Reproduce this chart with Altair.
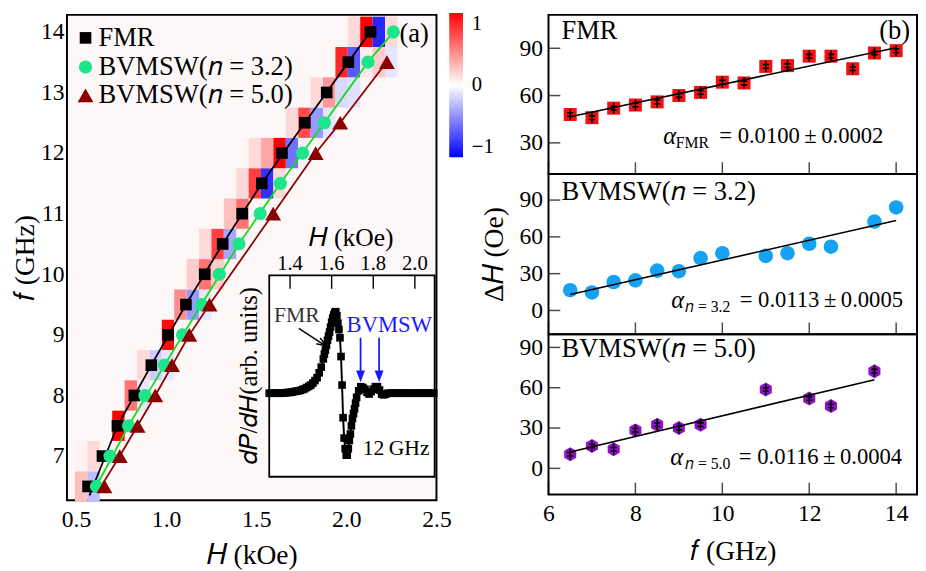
import altair as alt
import pandas as pd

FONT = "Liberation Serif"

# ---------------- panel (a): resonance positions ----------------
fmr_f = [6.5, 7.0, 7.5, 8.0, 8.5, 9.0, 9.5, 10.0, 10.5, 11.0, 11.5, 12.0, 12.5, 13.0, 13.5, 14.0]
fmr_H = [0.567, 0.647, 0.730, 0.824, 0.918, 1.011, 1.110, 1.214, 1.314, 1.422, 1.531, 1.643, 1.770, 1.891, 2.011, 2.134]
n32_f = [6.5, 7.0, 7.5, 8.0, 8.5, 9.0, 9.5, 10.0, 10.5, 11.0, 11.5, 12.0, 12.5, 13.5, 14.0]
n32_H = [0.614, 0.689, 0.792, 0.883, 0.991, 1.091, 1.196, 1.295, 1.404, 1.522, 1.634, 1.757, 1.878, 2.120, 2.261]
n50_f = [6.5, 7.0, 7.5, 8.0, 8.5, 9.0, 9.5, 11.0, 12.0, 12.5, 13.5]
n50_H = [0.658, 0.743, 0.842, 0.940, 1.033, 1.129, 1.241, 1.594, 1.830, 1.966, 2.225]

fit_fmr_H = [0.575, 0.730, 0.918, 1.110, 1.314, 1.531, 1.770, 2.011, 2.145]
fit_fmr_f = [6.35, 7.5, 8.5, 9.5, 10.5, 11.5, 12.5, 13.5, 14.05]
fit_n32_H = [0.598, 0.792, 0.991, 1.196, 1.404, 1.634, 1.878, 2.120, 2.268]
fit_n32_f = [6.42, 7.5, 8.5, 9.5, 10.5, 11.5, 12.5, 13.5, 14.02]
fit_n50_H = [0.625, 0.743, 0.940, 1.129, 1.241, 1.594, 1.830, 1.966, 2.228]
fit_n50_f = [6.43, 7.0, 8.0, 9.0, 9.5, 11.0, 12.0, 12.5, 13.52]

# heat map (dP/dH, normalised) : rows of f, cells on a regular H grid
heat_rows = [6.5, 7.0, 7.5, 8.0, 8.5, 9.0, 9.5, 10.0, 10.5, 11.0, 11.5, 12.0, 12.5, 13.0, 13.5, 14.0]
heat_first = [0, 0, 3, 4, 5, 7, 8, 9, 10, 12, 13, 14, 17, 19, 21, 22]
heat_vals = [
    [0.25, -0.25],
    [0.05, 0.15],
    [1.0],
    [0.55, -0.1],
    [0.15, -0.2, -0.1],
    [0.95, 0.05],
    [0.45, -0.4, -0.1],
    [0.2, 0.55, 0.2],
    [0.15, 0.75, -0.35],
    [0.25, 0.55],
    [0.15, 0.75, -0.8, 0.15],
    [0.15, 0.35, 1.0, -0.55, -0.05],
    [0.15, 0.7, -0.4, -0.1],
    [0.15, 0.4, -0.15, -0.12],
    [0.85, -0.65, 0.08, 0.2, -0.1],
    [0.15, 1.0, -0.85, 0.15],
]
heat_H0 = 0.4946
heat_dH = 0.0688
heat_half_f = 0.25

legend_labels = ["FMR", "BVMSW(\U0001D45B = 3.2)", "BVMSW(\U0001D45B = 5.0)"]
legend_f = [13.90, 13.42, 12.95]

# ---------------- inset: dP/dH at 12 GHz ----------------
ins_H = [1.30, 1.31, 1.32, 1.33, 1.34, 1.35, 1.36, 1.37, 1.38, 1.39, 1.40, 1.41, 1.42, 1.43, 1.44,
         1.45, 1.46, 1.47, 1.48, 1.49, 1.50, 1.51, 1.52, 1.53, 1.54, 1.55, 1.56, 1.565, 1.57, 1.575,
         1.58, 1.585, 1.59, 1.595, 1.60, 1.605, 1.61, 1.615, 1.62, 1.625, 1.63, 1.635, 1.64, 1.645,
         1.65, 1.655, 1.66, 1.665, 1.67, 1.675, 1.68, 1.685, 1.69, 1.695, 1.70, 1.705, 1.71, 1.715,
         1.72, 1.73, 1.74, 1.75, 1.76, 1.77, 1.78, 1.79, 1.80, 1.81, 1.82, 1.83, 1.84, 1.85, 1.86,
         1.87, 1.88, 1.89, 1.90, 1.91, 1.92, 1.93, 1.94, 1.95, 1.96, 1.97, 1.98, 1.99, 2.00, 2.01,
         2.02, 2.03, 2.04, 2.05, 2.06, 2.07, 2.08, 2.09]
ins_v = [0.0, 0.0, 0.0, 0.0, 0.0, 0.0, 0.0, 0.005, 0.005, 0.01, 0.01, 0.015, 0.02, 0.025, 0.03,
         0.035, 0.045, 0.055, 0.07, 0.085, 0.10, 0.125, 0.155, 0.19, 0.25, 0.32, 0.42, 0.48, 0.53, 0.59,
         0.65, 0.70, 0.75, 0.81, 0.87, 0.92, 0.96, 0.99, 1.0, 0.95, 0.86, 0.78, 0.68, 0.45,
         0.10, -0.30, -0.55, -0.68, -0.76, -0.76, -0.68, -0.58, -0.50, -0.40, -0.31, -0.25, -0.19, -0.12,
         -0.05, 0.03, 0.08, 0.07, 0.05, 0.01, -0.01, 0.02, 0.05, 0.08, 0.08, 0.04, -0.01, -0.02, -0.01,
         0.0, 0.0, 0.0, 0.0, 0.0, 0.0, 0.0, 0.0, 0.0, 0.0, 0.0, 0.0, 0.0, 0.0, 0.0,
         0.0, 0.0, 0.0, 0.0, 0.0, 0.0, 0.0, 0.0]
ins_ticks = [1.4, 1.6, 1.8, 2.0]
ins_tick_labels = ["1.4", "1.6", "1.8", "2.0"]
bv_arrow_H = [1.739, 1.828]

# ---------------- panel (b): linewidth vs frequency ----------------
p1_f = [6.5, 7, 7.5, 8, 8.5, 9, 9.5, 10, 10.5, 11, 11.5, 12, 12.5, 13, 13.5, 14]
p1_dH = [48, 46, 52, 54, 56, 60, 62, 68.5, 68, 78.5, 79, 85, 85, 77, 87, 88.5]
p1_fit_f = [6.5, 14.0]
p1_fit_dH = [46.6, 90.4]

p2_f = [6.5, 7, 7.5, 8, 8.5, 9, 9.5, 10, 11, 11.5, 12, 12.5, 13.5, 14]
p2_dH = [16.5, 14.7, 23.2, 24.5, 32.5, 32, 42.7, 46.7, 44.5, 46.7, 54.4, 52, 72.5, 84]
p2_fit_f = [6.5, 14.0]
p2_fit_dH = [13.0, 73.3]

p3_f = [6.5, 7, 7.5, 8, 8.5, 9, 9.5, 11, 12, 12.5, 13.5]
p3_dH = [10.5, 16.6, 14.2, 28.3, 32.5, 30, 32.5, 58.7, 52, 46.4, 72.3]
p3_fit_f = [6.5, 13.5]
p3_fit_dH = [12.2, 66.0]

# ======================================================================
def frame(**cols):
    return pd.DataFrame(cols)


# ---- heat table
hH0, hH1, hf0, hf1, hv = [], [], [], [], []
for f, k0, vals in zip(heat_rows, heat_first, heat_vals):
    for i, v in enumerate(vals):
        k = k0 + i
        hH0.append(heat_H0 + k * heat_dH)
        hH1.append(heat_H0 + (k + 1) * heat_dH)
        hf0.append(f - heat_half_f)
        hf1.append(f + heat_half_f)
        hv.append(v)
heat_df = frame(H0=hH0, H1=hH1, f0=hf0, f1=hf1, v=hv)

a_xs = alt.Scale(domain=[0.45, 2.5], nice=False, zero=False)
a_ys = alt.Scale(domain=[6.27, 14.28], nice=False, zero=False)
a_xax = alt.Axis(values=[0.5, 1.0, 1.5, 2.0, 2.5], format=".1f", tickSize=0, domain=False, grid=False,
                 labelFont=FONT, labelFontSize=24, labelPadding=8, labelFlush=False, labelColor="black",
                 title="\U0001D43B (kOe)", titleFont=FONT, titleFontSize=28, titleFontWeight="normal",
                 titlePadding=10, titleColor="black")
a_yax = alt.Axis(values=[7, 8, 9, 10, 11, 12, 13, 14], format="d", tickSize=0, domain=False, grid=False,
                 labelFont=FONT, labelFontSize=24, labelPadding=3, labelFlush=False, labelColor="black",
                 title="\U0001D453 (GHz)", titleFont=FONT, titleFontSize=28, titleFontWeight="normal",
                 titlePadding=1, titleColor="black")


def AX(f):
    return alt.X(f, type="quantitative", scale=a_xs, axis=a_xax)


def AY(f):
    return alt.Y(f, type="quantitative", scale=a_ys, axis=a_yax)


heat = alt.Chart(heat_df).mark_rect(strokeWidth=0).encode(
    x=AX("H0"), x2="H1", y=AY("f0"), y2="f1",
    color=alt.Color("v:Q",
                    scale=alt.Scale(domain=[-1, 0, 1], range=["#0000ff", "#ffffff", "#ff0000"], interpolate="rgb"),
                    legend=alt.Legend(orient="none", legendX=389, legendY=-2, direction="vertical",
                                      gradientLength=147, gradientThickness=14, gradientStrokeWidth=0,
                                      title=None, values=[-1, 0, 1], format="d", labelFont=FONT,
                                      labelFontSize=21, labelOffset=9, labelColor="black", padding=0)),
)


def line(Hs, fs, color):
    return alt.Chart(frame(H=Hs, f=fs)).mark_line(color=color, strokeWidth=1.8).encode(x=AX("H"), y=AY("f"))


def pts(Hs, fs, shape, color, size):
    return alt.Chart(frame(H=Hs, f=fs)).mark_point(shape=shape, filled=True, size=size, color=color,
                                                    opacity=1).encode(x=AX("H"), y=AY("f"))


GREEN_PT = "#1de68a"
GREEN_LN = "#13dd13"
DARKRED = "#8b0000"

leg_sym = [
    pts([0.553], [legend_f[0]], "square", "black", 140),
    pts([0.553], [legend_f[1]], "circle", GREEN_PT, 180),
    pts([0.553], [legend_f[2]], "triangle-up", DARKRED, 260),
]
leg_txt = alt.Chart(frame(H=[0.625] * 3, f=legend_f, t=legend_labels)).mark_text(
    align="left", baseline="middle", font=FONT, fontSize=27, color="black").encode(
    x=AX("H"), y=AY("f"), text="t:N")
lab_a = alt.Chart(frame(H=[2.295], f=[13.97], t=["(a)"])).mark_text(
    align="left", baseline="middle", font=FONT, fontSize=27, color="black").encode(
    x=AX("H"), y=AY("f"), text="t:N")

main = alt.layer(
    heat,
    line(fit_fmr_H, fit_fmr_f, "black"),
    line(fit_n32_H, fit_n32_f, GREEN_LN),
    line(fit_n50_H, fit_n50_f, DARKRED),
    pts(fmr_H, fmr_f, "square", "black", 140),
    pts(n32_H, n32_f, "circle", GREEN_PT, 180),
    pts(n50_H, n50_f, "triangle-up", DARKRED, 260),
    *leg_sym, leg_txt, lab_a,
)

# ---- inset
i_xs = alt.Scale(domain=[0.3277, 2.1038], nice=False, zero=False)
i_ys = alt.Scale(domain=[-1.313, 4.639], nice=False, zero=False)


def IX(f):
    return alt.X(f, type="quantitative", scale=i_xs, axis=None)


def IY(f):
    return alt.Y(f, type="quantitative", scale=i_ys, axis=None)


def itext(Hs, vs, ts, size, color="black", angle=0, align="center"):
    return alt.Chart(frame(H=Hs, v=vs, t=ts)).mark_text(
        align=align, baseline="middle", font=FONT, fontSize=size, color=color, angle=angle).encode(
        x=IX("H"), y=IY("v"), text="t:N")


ibox = alt.Chart(frame(x0=[1.30], x1=[2.095], y0=[-1.024], y1=[1.446])).mark_rect(
    fill="white", stroke="black", strokeWidth=1.8).encode(x=IX("x0"), x2="x1", y=IY("y0"), y2="y1")
iticks = alt.Chart(frame(H=ins_ticks, a=[1.446] * 4, b=[1.28] * 4)).mark_rule(
    color="black", strokeWidth=1.4).encode(x=IX("H"), y=IY("a"), y2="b")
icurve = alt.Chart(frame(H=ins_H, v=ins_v)).mark_line(color="black", strokeWidth=2).encode(x=IX("H"), y=IY("v"))
ipts = alt.Chart(frame(H=ins_H, v=ins_v)).mark_point(shape="square", filled=True, size=60, color="black",
                                                     opacity=1).encode(x=IX("H"), y=IY("v"))
fmr_arrow = alt.Chart(frame(a=[1.442], b=[1.571], c=[0.795], d=[0.582])).mark_rule(
    color="black", strokeWidth=1.5).encode(x=IX("a"), x2="b", y=IY("c"), y2="d")
fmr_head = alt.Chart(frame(H=[1.573], v=[0.58])).mark_point(
    shape="M-1.6,-0.6L0,0L-1.6,0.6", filled=False, size=140, stroke="black", strokeWidth=1.5, angle=33,
    opacity=1).encode(x=IX("H"), y=IY("v"))
bv_rules = alt.Chart(frame(H=bv_arrow_H, a=[0.68, 0.68], b=[0.2, 0.2])).mark_rule(
    color="#1a1aff", strokeWidth=1.8).encode(x=IX("H"), y=IY("a"), y2="b")
bv_heads = alt.Chart(frame(H=bv_arrow_H, v=[0.135, 0.135])).mark_point(
    shape="M-0.75,-2L0,0L0.75,-2Z", filled=True, size=144, color="#1a1aff", opacity=1).encode(
    x=IX("H"), y=IY("v"))

inset = alt.layer(
    ibox, iticks,
    itext(ins_ticks, [1.578] * 4, ins_tick_labels, 21),
    itext([1.693], [1.904], ["\U0001D43B (kOe)"], 26),
    itext([1.205], [0.22], ["\U0001D451\U0001D443/\U0001D451\U0001D43B(arb. units)"], 25, angle=270),
    icurve, ipts,
    fmr_arrow, fmr_head, bv_rules, bv_heads,
    itext([1.433], [0.96], ["FMR"], 22, color="#333333"),
    itext([1.877], [0.84], ["BVMSW"], 23, color="#1a1aff"),
    itext([1.910], [-0.675], ["12\u2009GHz"], 22),
)

left = alt.layer(main, inset).resolve_scale(x="independent", y="independent").properties(
    width=376, height=494, view=alt.ViewBackground(fill="#fdf8f7", stroke="black", strokeWidth=2))

# ---- right panels
r_xs = alt.Scale(domain=[6, 14.48], nice=False, zero=False)
ERR = "M0,-1L0,1M-0.55,-0.32L0.55,-0.32M-0.55,0.32L0.55,0.32"
HEX = "M0,-1L0.866,-0.5L0.866,0.5L0,1L-0.866,0.5L-0.866,-0.5Z"


def panel(h, ydom, yvals, fs, vals, fit_f, fit_v, shape, color, size, err, label, sub, value_txt,
          tpos, show_x, ytitle, badge=None):
    ys = alt.Scale(domain=ydom, nice=False, zero=False)
    yax = alt.Axis(values=yvals, format="d", tickSize=0, domain=False, grid=False, labelFont=FONT,
                   labelFontSize=24, labelPadding=6, labelFlush=False, labelColor="black",
                   title=ytitle if ytitle else None, titleFont=FONT, titleFontSize=28,
                   titleFontWeight="normal", titlePadding=11, titleColor="black")
    if show_x:
        xax = alt.Axis(values=[6, 8, 10, 12, 14], format="d", tickSize=0, domain=False, grid=False,
                       labelFont=FONT, labelFontSize=24, labelPadding=8, labelFlush=False, labelColor="black",
                       title="\U0001D453 (GHz)", titleFont=FONT, titleFontSize=28, titleFontWeight="normal",
                       titlePadding=12, titleColor="black")
    else:
        xax = None

    def RX(f):
        return alt.X(f, type="quantitative", scale=r_xs, axis=xax)

    def RY(f):
        return alt.Y(f, type="quantitative", scale=ys, axis=yax)

    def txt(xs_, ys_, ts, size_, align, dy=0, style="normal"):
        return alt.Chart(frame(x=xs_, y=ys_, t=ts)).mark_text(
            align=align, baseline="middle", font=FONT, fontSize=size_, color="black", dy=dy,
            fontStyle=style).encode(x=RX("x"), y=RY("y"), text="t:N")

    layers = [
        alt.Chart(frame(x=fs, y=vals)).mark_point(shape=shape, filled=True, size=size, color=color,
                                                  opacity=1).encode(x=RX("x"), y=RY("y")),
    ]
    if err:
        layers.append(alt.Chart(frame(x=fs, y=vals)).mark_point(
            shape=ERR, filled=False, size=130, stroke="black", strokeWidth=1.6, opacity=1).encode(
            x=RX("x"), y=RY("y")))
    layers.append(alt.Chart(frame(x=fit_f, y=fit_v)).mark_line(color="black", strokeWidth=1.6).encode(
        x=RX("x"), y=RY("y")))
    layers.append(alt.Chart(frame(x=[6, 8, 10, 12, 14], y=[0] * 5)).mark_tick(
        orient="vertical", size=12, thickness=1.5, color="black").encode(x=RX("x"), y=alt.value(h - 6)))
    layers.append(alt.Chart(frame(x=[6] * len(yvals), y=yvals)).mark_tick(
        orient="horizontal", size=12, thickness=1.5, color="black").encode(y=RY("y"), x=alt.value(6)))
    ax_, sx_, ex_, ty_ = tpos
    layers.append(txt([6.3], [label[1]], [label[0]], 27, "left"))
    layers.append(txt([ax_], [ty_], ["\u03b1"], 25, "left", style="italic"))
    layers.append(txt([sx_], [ty_], [sub], 16, "left", dy=7))
    layers.append(txt([ex_], [ty_], [value_txt], 23, "left"))
    if badge:
        layers.append(txt([14.32], [label[1]], [badge], 27, "right"))
    return alt.layer(*layers).properties(width=375, height=h)


p1 = panel(162, [10.2, 111.2], [30, 60, 90], p1_f, p1_dH, p1_fit_f, p1_fit_dH, "square", "#f21010", 175, True,
           ("FMR", 100.8), "FMR", "= 0.0100\u2009\u00b1\u20090.0002", (8.64, 8.93, 9.93, 34.1), False, None,
           badge="(b)")
p2 = panel(163, [-19.4, 111.2], [0, 30, 60, 90], p2_f, p2_dH, p2_fit_f, p2_fit_dH, "circle", "#15a2f2", 220, False,
           ("BVMSW(\U0001D45B = 3.2)", 96.5), "\U0001D45B = 3.2", "= 0.0113\u2009\u00b1\u20090.0005",
           (8.825, 9.14, 10.40, 8.5), False, "\u0394\U0001D43B (Oe)")
p3 = panel(163, [-19.4, 99.8], [0, 30, 60, 90], p3_f, p3_dH, p3_fit_f, p3_fit_dH, HEX, "#8f12c8", 200, True,
           ("BVMSW(\U0001D45B = 5.0)", 88.7), "\U0001D45B = 5.0", "= 0.0116\u2009\u00b1\u20090.0004",
           (8.80, 9.14, 10.38, 8.0), True, None)

right = alt.vconcat(p1, p2, p3, spacing=0, bounds="flush")

chart = alt.hconcat(left, right, spacing=114, bounds="flush").properties(
    padding={"left": 3, "top": 0, "right": 0, "bottom": 0}).configure_view(
    stroke="black", strokeWidth=2).configure_axis(grid=False)

chart.save("out.html", embed_options={"renderer": "svg", "actions": False})
